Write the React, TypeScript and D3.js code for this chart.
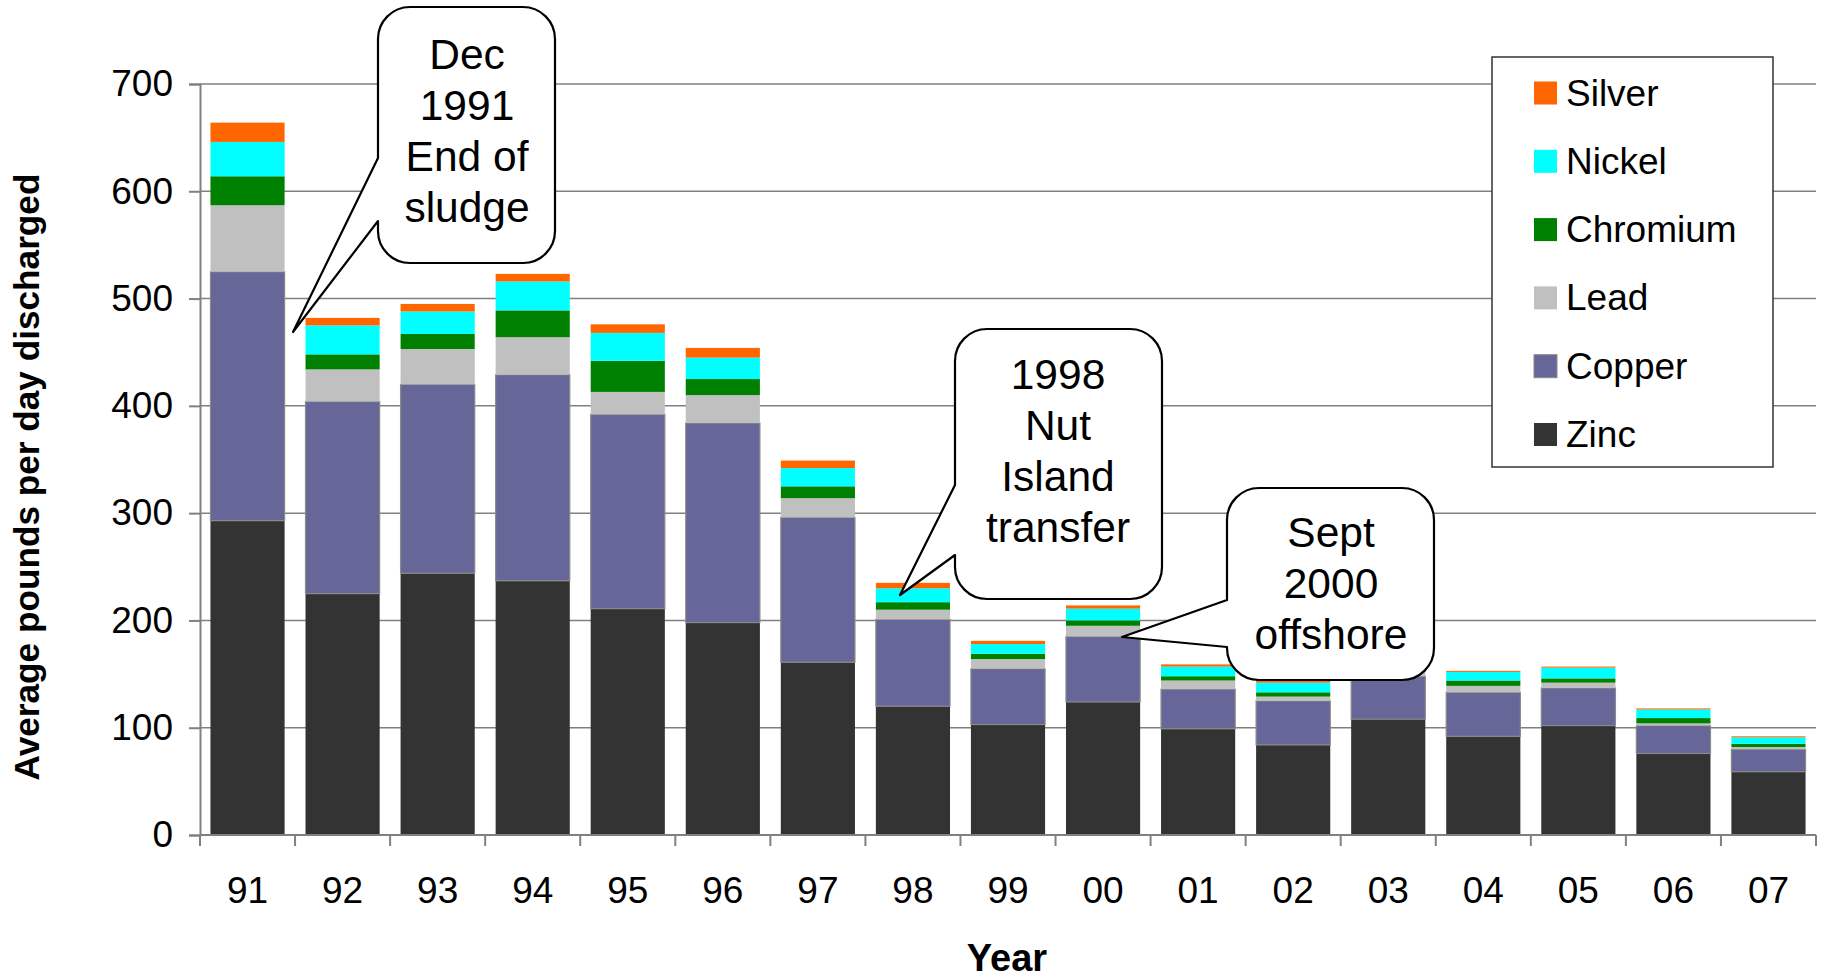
import {useEffect, useRef} from 'react';
import * as d3 from 'd3';

const years = ['91', '92', '93', '94', '95', '96', '97', '98', '99', '00', '01', '02', '03', '04', '05', '06', '07'];
const zinc = [293, 225, 244, 237, 211, 198, 161, 120, 103, 124, 99, 84, 108, 92, 102, 76, 59];
const copper = [232, 179, 176, 192, 181, 186, 135, 81, 52, 61, 37, 41, 40, 41, 35, 26, 21];
const lead = [62, 30, 33, 35, 21, 26, 18, 9, 9, 10, 8, 4, 4, 6, 5, 2, 2];
const chromium = [27, 14, 14, 25, 29, 15, 11, 7, 5, 5, 4, 4, 3, 5, 4, 5, 3];
const nickel = [32, 27, 21, 27, 26, 20, 17, 13, 9, 11, 9, 9, 8, 8, 10, 8, 6];
const silver = [18, 7, 7, 7, 8, 9, 7, 5, 3, 3, 2, 3, 1, 1, 1, 1, 1];
const yTicks = [0, 100, 200, 300, 400, 500, 600, 700];

// bottom to top
const series = [
  {name: 'Zinc', values: zinc, color: '#333333'},
  {name: 'Copper', values: copper, color: '#666699'},
  {name: 'Lead', values: lead, color: '#C0C0C0'},
  {name: 'Chromium', values: chromium, color: '#008000'},
  {name: 'Nickel', values: nickel, color: '#00FFFF'},
  {name: 'Silver', values: silver, color: '#FF6600'},
];

const callouts = [
  {lines: ['Dec', '1991', 'End of', 'sludge'], box: [378, 7, 555, 263], attach: [158, 221], tip: [293, 332], cx: 467, base: 68.5},
  {lines: ['1998', 'Nut', 'Island', 'transfer'], box: [955, 329, 1162, 599], attach: [485, 555], tip: [900, 595], cx: 1058, base: 388.5},
  {lines: ['Sept', '2000', 'offshore'], box: [1227, 488, 1434, 680], attach: [600, 647], tip: [1122, 637], cx: 1331, base: 546.5},
];

const FONT = '"Liberation Sans", Arial, Helvetica, sans-serif';

const App = () => {
  const svgRef = useRef(null);
  const width = 1825;
  const height = 979;

  useEffect(() => {
    const svg = d3.select(svgRef.current);
    svg.selectAll('*').remove();

    const left = 200, right = 1816, top = 84, bottom = 835;

    const x = d3.scaleBand().domain(years).range([left, right]).paddingInner(0.22).paddingOuter(0.11);
    const y = d3.scaleLinear().domain([0, 700]).range([bottom, top]);

    // gridlines
    svg.append('g')
      .selectAll('line')
      .data(yTicks.slice(1))
      .enter().append('line')
      .attr('x1', left).attr('x2', right)
      .attr('y1', d => y(d)).attr('y2', d => y(d))
      .attr('stroke', '#808080')
      .attr('stroke-width', 1.5);

    // stacked bars
    const rows = years.map((yr, i) => {
      const r = {year: yr};
      series.forEach(s => { r[s.name] = s.values[i]; });
      return r;
    });
    const stack = d3.stack().keys(series.map(s => s.name))(rows);

    stack.forEach((layer, li) => {
      const s = series[li];
      svg.append('g')
        .selectAll('rect')
        .data(layer)
        .enter().append('rect')
        .attr('x', d => x(d.data.year))
        .attr('width', x.bandwidth())
        .attr('y', d => y(d[1]))
        .attr('height', d => y(d[0]) - y(d[1]))
        .attr('fill', s.color)
        .attr('stroke', s.name === 'Copper' ? '#8a8a8a' : 'none')
        .attr('stroke-width', 1.2);
    });

    // axes
    const yAxis = svg.append('g').attr('transform', `translate(${left},0)`)
      .call(d3.axisLeft(y).tickValues(yTicks).tickSize(11).tickPadding(16));
    const xAxis = svg.append('g').attr('transform', `translate(0,${bottom})`)
      .call(d3.axisBottom(x).tickSize(0).tickPadding(42));

    [yAxis, xAxis].forEach(g => {
      g.select('.domain').attr('stroke', '#808080').attr('stroke-width', 2);
      g.selectAll('.tick line').attr('stroke', '#808080').attr('stroke-width', 2);
      g.selectAll('text')
        .style('font-family', FONT)
        .style('font-size', '37px')
        .attr('fill', '#000');
    });
    xAxis.select('.domain').attr('d', `M${left},0H${right}`);

    // x ticks between categories
    svg.append('g')
      .selectAll('line')
      .data(d3.range(years.length + 1))
      .enter().append('line')
      .attr('x1', i => left + i * x.step()).attr('x2', i => left + i * x.step())
      .attr('y1', bottom).attr('y2', bottom + 11)
      .attr('stroke', '#808080')
      .attr('stroke-width', 2);

    // axis titles
    svg.append('text')
      .attr('x', 1007).attr('y', 971)
      .attr('text-anchor', 'middle')
      .style('font-family', FONT)
      .style('font-size', '38px')
      .style('font-weight', 'bold')
      .text('Year');

    svg.append('text')
      .attr('transform', `translate(38.5, 477) rotate(-90)`)
      .attr('text-anchor', 'middle')
      .style('font-family', FONT)
      .style('font-size', '35.2px')
      .style('font-weight', 'bold')
      .text('Average pounds per day discharged');

    // legend
    const lg = svg.append('g');
    lg.append('rect')
      .attr('x', 1492).attr('y', 57).attr('width', 281).attr('height', 410)
      .attr('fill', '#fff').attr('stroke', '#333').attr('stroke-width', 1.5);
    const legendItems = series.slice().reverse();
    const ly = d3.scalePoint().domain(legendItems.map(s => s.name)).range([93, 434.5]);
    legendItems.forEach(s => {
      lg.append('rect')
        .attr('x', 1534).attr('y', ly(s.name) - 11.5).attr('width', 23).attr('height', 23)
        .attr('fill', s.color)
        .attr('stroke', s.name === 'Copper' ? '#8a8a8a' : 'none');
      lg.append('text')
        .attr('x', 1566).attr('y', ly(s.name) + 12.5)
        .style('font-family', FONT)
        .style('font-size', '37px')
        .text(s.name);
    });

    // callouts
    callouts.forEach(c => {
      const [x0, y0, x1, y1] = c.box;
      const r = 32;
      const p = d3.path();
      p.moveTo(x0 + r, y0);
      p.lineTo(x1 - r, y0);
      p.arcTo(x1, y0, x1, y0 + r, r);
      p.lineTo(x1, y1 - r);
      p.arcTo(x1, y1, x1 - r, y1, r);
      p.lineTo(x0 + r, y1);
      p.arcTo(x0, y1, x0, y1 - r, r);
      p.lineTo(x0, c.attach[1]);
      p.lineTo(c.tip[0], c.tip[1]);
      p.lineTo(x0, c.attach[0]);
      p.lineTo(x0, y0 + r);
      p.arcTo(x0, y0, x0 + r, y0, r);
      p.closePath();
      svg.append('path')
        .attr('d', p.toString())
        .attr('fill', '#fff')
        .attr('stroke', '#000')
        .attr('stroke-width', 2.2)
        .attr('stroke-linejoin', 'round');
      c.lines.forEach((t, i) => {
        svg.append('text')
          .attr('x', c.cx).attr('y', c.base + i * 51)
          .attr('text-anchor', 'middle')
          .style('font-family', FONT)
          .style('font-size', '42.5px')
          .text(t);
      });
    });
  }, []);

  return (
    <svg ref={svgRef} width={width} height={height}
      style={{position: 'absolute', left: 0, top: 0, display: 'block', background: '#fff'}}/>
  );
};

export default App;
